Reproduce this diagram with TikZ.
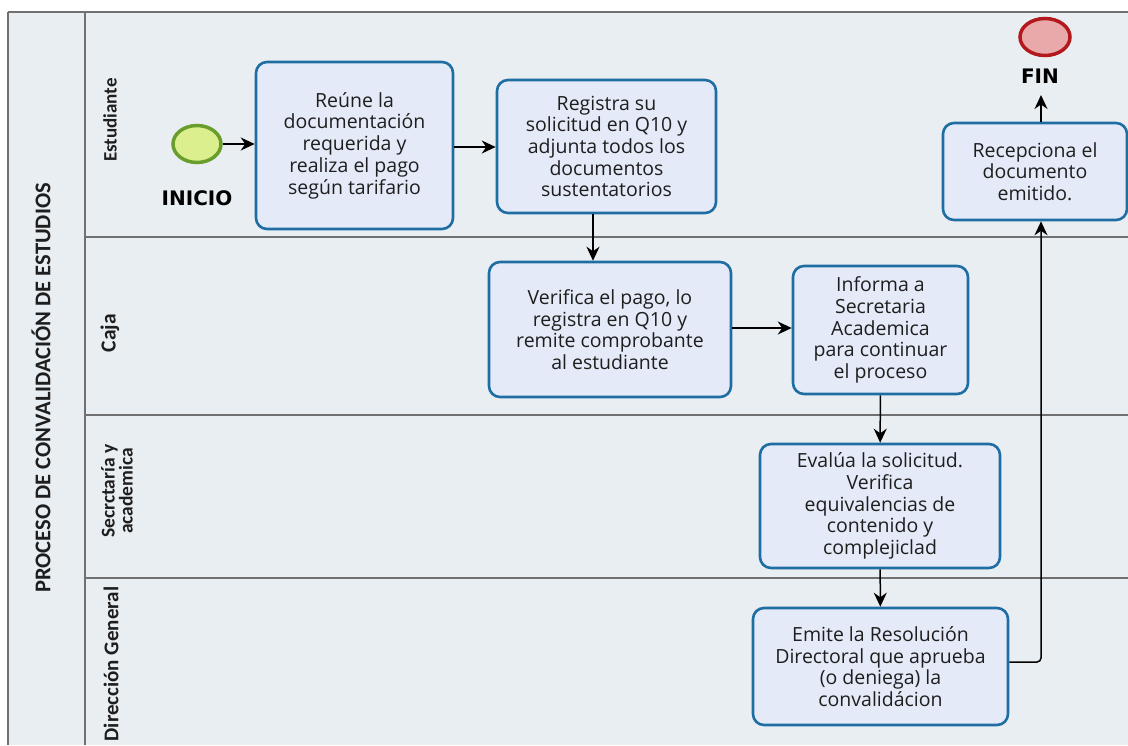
\documentclass[tikz,border=0pt]{standalone}
\usepackage{fontspec}
\setmainfont{Open Sans}
\newfontfamily\lanefont{Carlito}
\newfontfamily\evfont{DejaVu Sans}
\usetikzlibrary{arrows.meta,shapes.geometric}
\definecolor{bgc}{HTML}{E9EEF2}
\definecolor{boxfill}{HTML}{E4EAF7}
\definecolor{boxline}{HTML}{1F6EA3}
\definecolor{lanel}{HTML}{707070}
\definecolor{startfill}{HTML}{DCEF8E}
\definecolor{startline}{HTML}{6A9E2C}
\definecolor{endfill}{HTML}{E9A9AA}
\definecolor{endline}{HTML}{B3191C}
\definecolor{txt}{HTML}{1E1E1E}
\tikzset{
  task/.style={draw=boxline, line width=2.6pt, fill=boxfill, rounded corners=11pt,
    align=center, font=\fontsize{19.5}{21.7}\selectfont, text=txt, inner sep=0pt},
  arr/.style={-{Stealth[length=14pt,width=13pt]}, line width=1.5pt, black},
  lanelabel/.style={rotate=90, font=\lanefont\bfseries\fontsize{19}{20}\selectfont, align=center, text=txt},
  evlabel/.style={font=\evfont\bfseries\fontsize{20}{22}\selectfont, text=black},
  lane/.style={draw=lanel, line width=1.4pt}
}
\begin{document}
\begin{tikzpicture}[x=1pt,y=-1pt]
\useasboundingbox (0,0) rectangle (1128,745);
\fill[white] (0,0) rectangle (1128,745);
\fill[bgc] (8,12) rectangle (1128,745);
% lane lines
\draw[lane] (8,12) -- (1128,12);
\draw[lane] (8,12) -- (8,745);
\draw[lane] (85,12) -- (85,745);
\draw[lane] (85,237) -- (1128,237);
\draw[lane] (85,415) -- (1128,415);
\draw[lane] (85,578) -- (1128,578);
% titles
\node[lanelabel, font=\lanefont\bfseries\fontsize{22.5}{24}\selectfont] (title) at (41,388) {PROCESO DE CONVALIDACIÓN DE ESTUDIOS};
\node[lanelabel] (l1) at (110,120) {Estudiante};
\node[lanelabel, font=\lanefont\bfseries\fontsize{21.5}{22}\selectfont] (l2) at (110,333) {Caja};
\node[lanelabel, font=\lanefont\bfseries\fontsize{19.5}{18}\selectfont] (l3) at (117,491) {Secrctaría y\\academica};
\node[lanelabel, font=\lanefont\bfseries\fontsize{21}{22}\selectfont] (l4) at (111,664) {Dirección General};
% events
\node[draw=startline, fill=startfill, line width=3.5pt, ellipse, minimum width=48pt, minimum height=37pt, inner sep=0pt] (ini) at (197,144) {};
\node[evlabel] (inil) at (197,198) {INICIO};
\node[draw=endline, fill=endfill, line width=3.5pt, ellipse, minimum width=50pt, minimum height=37pt, inner sep=0pt] (fin) at (1045,37) {};
\node[evlabel] (finl) at (1040,76) {FIN};
% tasks
\node[task, minimum width=197pt, minimum height=167pt] (b1) at (354.5,145.5) {Reúne la\\documentación\\requerida y\\realiza el pago\\según tarifario};
\node[task, minimum width=219pt, minimum height=133pt] (b2) at (606.5,146.5) {Registra su\\solicitud en Q10 y\\adjunta todos los\\documentos\\sustentatorios};
\node[task, minimum width=242pt, minimum height=135pt] (b3) at (610,329.5) {Verifica el pago, lo\\registra en Q10 y\\remite comprobante\\al estudiante};
\node[task, minimum width=175pt, minimum height=128pt] (b4) at (880.5,330) {Informa a\\Secretaria\\Academica\\para continuar\\el proceso};
\node[task, minimum width=240pt, minimum height=124pt] (b5) at (880,506) {Evalúa la solicitud.\\Verifica\\equivalencias de\\contenido y\\complejiclad};
\node[task, minimum width=255pt, minimum height=117pt] (b6) at (880.5,666.5) {Emite la Resolución\\Directoral que aprueba\\(o deniega) la\\convalidácion};
\node[task, minimum width=184pt, minimum height=97pt] (b7) at (1035,171.5) {Recepciona el\\documento\\emitido.};
% connectors
\draw[arr] (ini) -- (b1.west |- ini);
\draw[arr] (b1.east |- 0,147) -- (b2.west |- 0,147);
\draw[arr] (b2.south -| 593,0) -- (b3.north -| 593,0);
\draw[arr] (b3.east |- 0,328) -- (b4.west |- 0,328);
\draw[arr] (b4) -- (b5);
\draw[arr] (b5) -- (b6);
\coordinate (turn) at (1041,662);
\draw[arr, rounded corners=4pt] (b6.east |- turn) -- (turn) -- (b7.south -| turn);
\coordinate (finin) at (1041,95);
\draw[arr] (b7.north -| finin) -- (finin);
\end{tikzpicture}
\end{document}
